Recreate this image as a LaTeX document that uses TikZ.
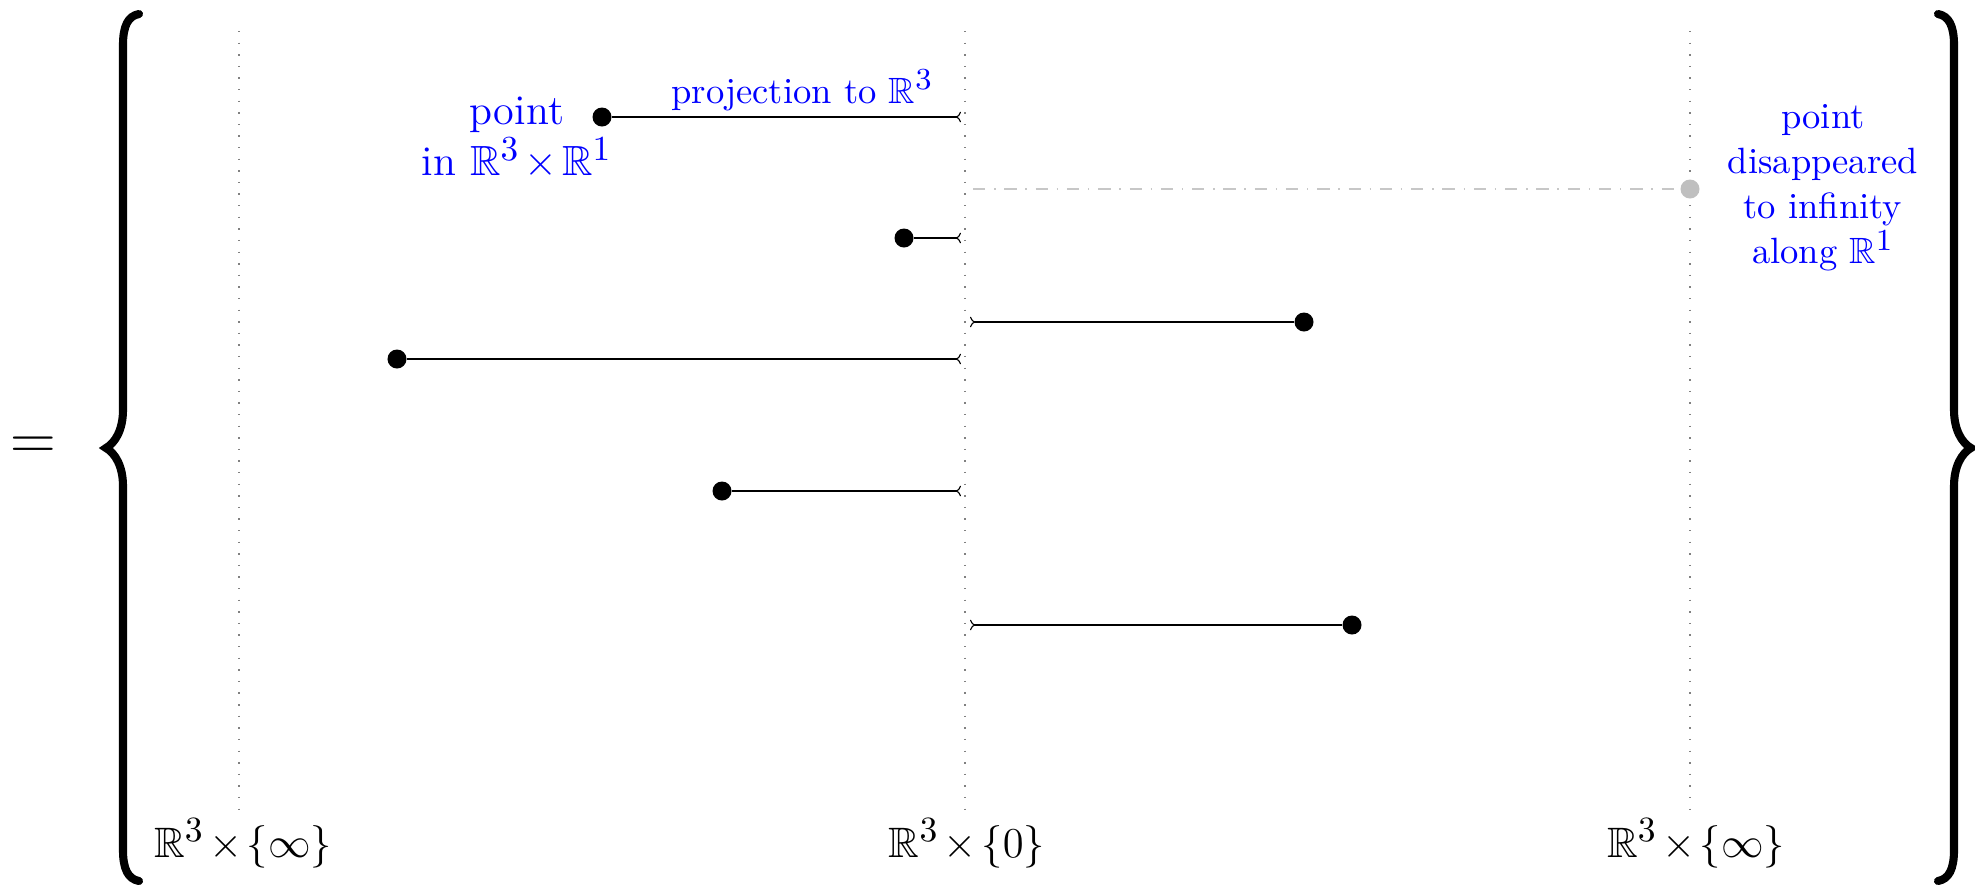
\RequirePackage{fix-cm}
\documentclass[tikz,border=0pt]{standalone}
\usepackage{amssymb}
\DeclareFontFamily{U}{msb}{}
\DeclareFontShape{U}{msb}{m}{n}{<-6> msbm5 <6-8> msbm7 <8-> msbm10}{}
\DeclareMathSizes{12}{12}{10}{8}
\DeclareMathSizes{12.1}{12.1}{10.1}{8}
\DeclareMathSizes{10.4}{10.4}{8.7}{7}
\protected\def\tightmathsp{\medmuskip=2mu\relax}
\usetikzlibrary{arrows.meta}
\tikzset{
  axisline/.style={gray, line width=0.4pt, dash pattern=on 0.4pt off 2.9pt},
  ptdot/.style={circle, fill=black, inner sep=0pt, minimum size=0.19cm},
  greydot/.style={circle, fill=black!25, inner sep=0pt, minimum size=0.19cm},
  proj/.style={line width=0.32pt, arrows={To[reversed, length=1.5pt, width=3pt]}-},
  greyline/.style={black!22, line width=0.4pt, dash pattern=on 3.5pt off 2.5pt on 0.4pt off 2.5pt},
  bracestroke/.style={line width=2.3pt, line cap=round},
  biglbl/.style={text=blue, align=center, inner sep=0pt, font=\fontsize{12}{14.4}\selectfont\tightmathsp},
  smlbl/.style={text=blue, align=center, inner sep=0pt, font=\fontsize{10.4}{12.8}\selectfont},
  botlbl/.style={inner sep=0pt, font=\fontsize{12.1}{14.4}\selectfont\tightmathsp},
  eqlbl/.style={inner sep=0pt, font=\fontsize{18}{21}\selectfont}
}
\begin{document}
\begin{tikzpicture}[x=0.01cm, y=-0.01cm]
\useasboundingbox (0,0) rectangle (1975,890);
% axes
\coordinate (t1) at (239,31); \coordinate (b1) at (239,817);
\coordinate (t2) at (965,31); \coordinate (b2) at (965,817);
\coordinate (t3) at (1690,31); \coordinate (b3) at (1690,817);
\draw[axisline] (t1) -- (b1);
\draw[axisline] (t2) -- (b2);
\draw[axisline] (t3) -- (b3);
% braces
\draw[bracestroke] (139,14) .. controls (128,16) and (123,26) .. (123,45) -- (123,410)
  .. controls (123,430) and (115,443) .. (106,448)
  .. controls (115,453) and (123,466) .. (123,486) -- (123,850)
  .. controls (123,869) and (128,879) .. (139,881);
\draw[bracestroke] (1938,14) .. controls (1949,16) and (1954,26) .. (1954,45) -- (1954,410)
  .. controls (1954,430) and (1962,443) .. (1971,448)
  .. controls (1962,453) and (1954,466) .. (1954,486) -- (1954,850)
  .. controls (1954,869) and (1949,879) .. (1938,881);
\node[eqlbl] (eq) at (33,448) {$=$};
% grey point
\node[greydot] (g) at (1690,189) {};
\coordinate (g0) at (973,189);
\draw[greyline] (g0) -- (g);
% points and projections
\node[ptdot] (p1) at (602,117) {};
\node[ptdot] (p2) at (904,238) {};
\node[ptdot] (p3) at (1304,322) {};
\node[ptdot] (p4) at (397,359) {};
\node[ptdot] (p5) at (722,491) {};
\node[ptdot] (p6) at (1352,625) {};
\coordinate (a1) at (961,117);
\coordinate (a2) at (961,238);
\coordinate (a3) at (970,322);
\coordinate (a4) at (961,359);
\coordinate (a5) at (961,491);
\coordinate (a6) at (970,625);
\draw[proj] (a1) -- (p1);
\draw[proj] (a2) -- (p2);
\draw[proj] (a3) -- (p3);
\draw[proj] (a4) -- (p4);
\draw[proj] (a5) -- (p5);
\draw[proj] (a6) -- (p6);
% labels
\node[biglbl] (l1) at (517,138) {point\\in $\mathbb{R}^3\times\mathbb{R}^1$};
\node[smlbl, anchor=base east] (l2) at (934,103) {projection to $\mathbb{R}^3$};
\node[smlbl] (l3) at (1823,188) {point\\disappeared\\to infinity\\along $\mathbb{R}^1$};
\node[botlbl, anchor=base] (x1) at (243,857) {$\mathbb{R}^3\times\{\infty\}$};
\node[botlbl, anchor=base] (x2) at (967,857) {$\mathbb{R}^3\times\{0\}$};
\node[botlbl, anchor=base] (x3) at (1696,857) {$\mathbb{R}^3\times\{\infty\}$};
\end{tikzpicture}
\end{document}
